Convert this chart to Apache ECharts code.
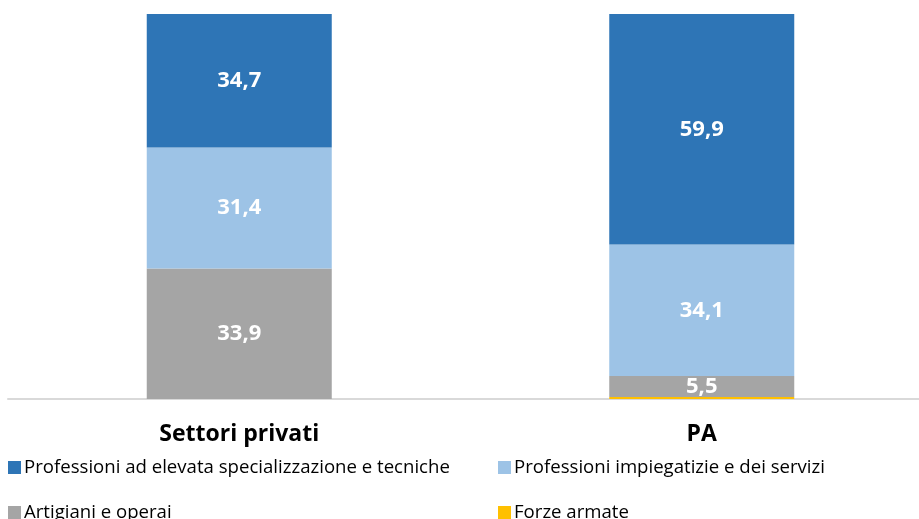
<!DOCTYPE html>
<html>
<head>
<meta charset="utf-8">
<script src="https://cdn.jsdelivr.net/npm/echarts@6/dist/echarts.min.js"></script>
<style>
html,body{margin:0;padding:0;background:#fff;overflow:hidden;}
#chart{width:933px;height:519px;}
</style>
</head>
<body>
<div id="chart"></div>
<script>
// dati
var categories=['Settori privati','PA'];
var elevata=[34.7,59.9];
var impiegatizie=[31.4,34.1];
var artigiani=[33.9,5.5];
var forzeArmate=[0,0.5];

var names=['Professioni ad elevata specializzazione e tecniche','Professioni impiegatizie e dei servizi','Artigiani e operai','Forze armate'];
var colors=['#2e75b6','#9dc3e6','#a5a5a5','#ffc000'];

var fontFam='"Open Sans","Liberation Sans",sans-serif';

function labelFmt(p){
    return p.value.toFixed(1).replace('.',',');
}

function makeSeries(name,data,color,showLabel){
    return {
        name:name,
        type:'bar',
        stack:'tot',
        barWidth:'40%',
        data:data,
        itemStyle:{color:color},
        label:{
            show:showLabel,
            position:'inside',
            color:'#fff',
            fontWeight:'bold',
            fontSize:22,
            fontFamily:fontFam,
            formatter:labelFmt
        }
    };
}

// una legenda per voce, per posizionarle come nell'originale
function makeLegend(name,left,top){
    return {
        left:left,top:top,
        itemWidth:13,itemHeight:13,icon:'rect',itemGap:6,
        textStyle:{fontSize:18.6,color:'#000',fontFamily:fontFam,padding:[0,0,0,-2]},
        data:[name]
    };
}

var myChart=echarts.init(document.getElementById('chart'));
var option={
    animation:false,
    grid:{left:8,top:14,right:0,bottom:120},
    legend:[
        makeLegend(names[0],3,453),
        makeLegend(names[1],493,453),
        makeLegend(names[2],3,498),
        makeLegend(names[3],493,498)
    ],
    xAxis:{
        type:'category',
        data:categories,
        axisLine:{lineStyle:{color:'#d9d9d9',width:2}},
        axisTick:{show:false},
        axisLabel:{margin:24,fontSize:23,fontWeight:'bold',color:'#000',fontFamily:fontFam}
    },
    yAxis:{type:'value',min:0,max:100,show:false},
    series:[
        makeSeries(names[3],forzeArmate,colors[3],false),
        makeSeries(names[2],artigiani,colors[2],true),
        makeSeries(names[1],impiegatizie,colors[1],true),
        makeSeries(names[0],elevata,colors[0],true)
    ]
};
myChart.setOption(option);
</script>
</body>
</html>
